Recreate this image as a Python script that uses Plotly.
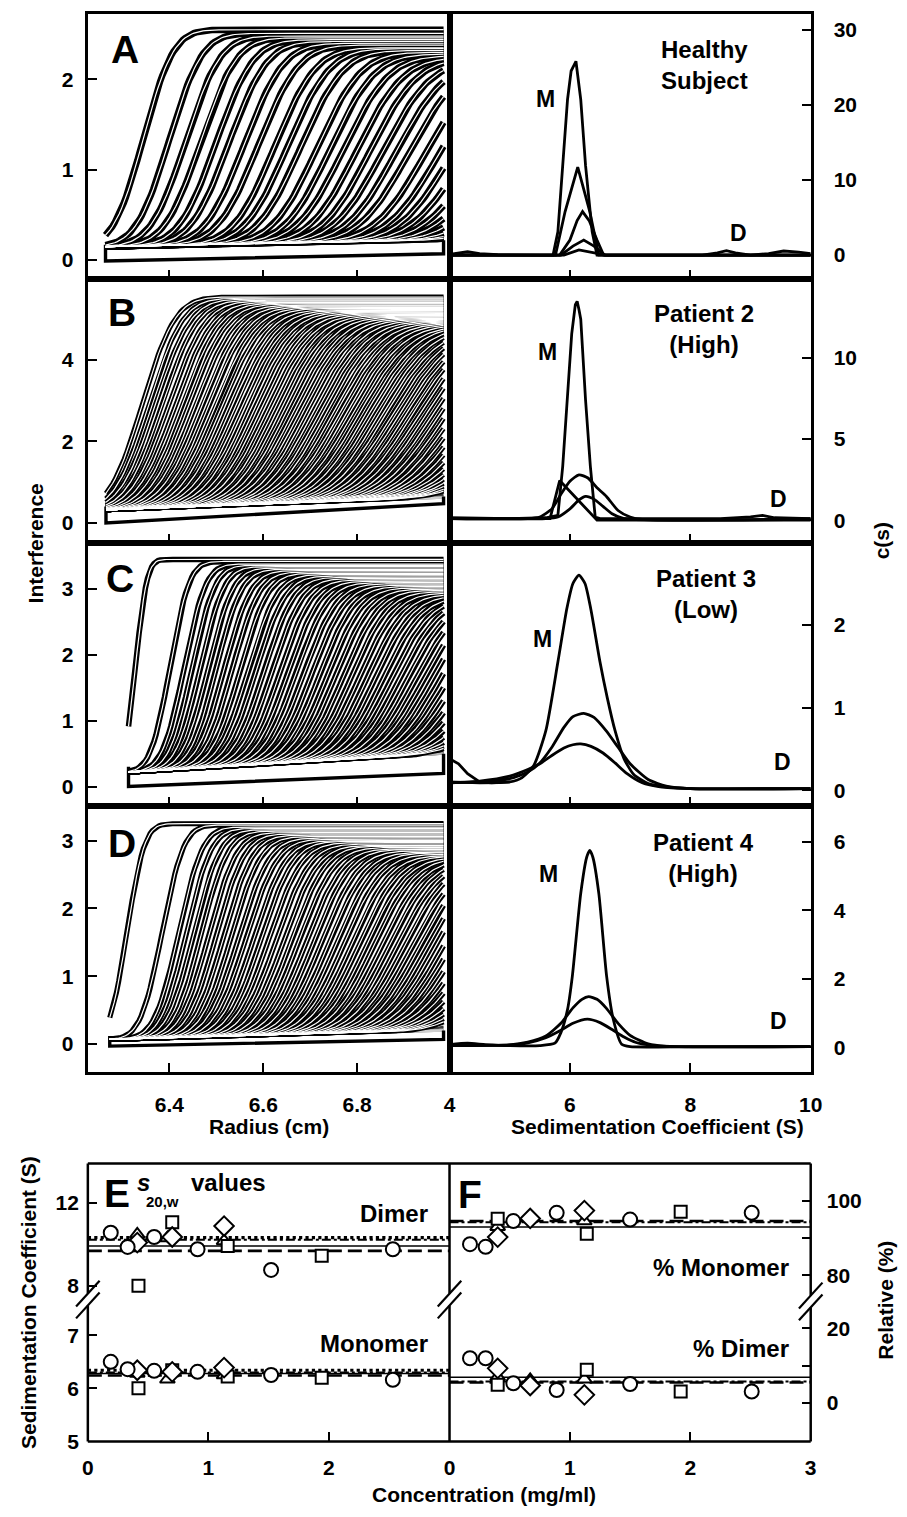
import math
import numpy as np
import plotly.graph_objects as go

W, H = 907, 1517
FONT = "Liberation Sans, Arial, Helvetica, sans-serif"

# ---------------------------------------------------------------------------
# Panels A-D (left): interference scans, radius (cm) vs fringes.
# Each scan: boundary midpoint (cm), boundary spread (cm), plateau level.
# ---------------------------------------------------------------------------
A_rmen, A_rend = 6.264, 6.984
A_base = [0.15, 0.22]
A_rb = [6.345, 6.400, 6.435, 6.467, 6.500, 6.527, 6.560, 6.590, 6.625, 6.652,
        6.680, 6.715, 6.743, 6.771, 6.800, 6.828, 6.855, 6.883, 6.911, 6.946,
        6.975, 7.002, 7.030, 7.058, 7.086, 7.114, 7.142, 7.170, 7.200]
A_sig = [0.050, 0.055, 0.058, 0.060, 0.062, 0.064, 0.066, 0.068, 0.069, 0.071,
         0.072, 0.074, 0.075, 0.077, 0.078, 0.079, 0.081, 0.082, 0.083, 0.085,
         0.086, 0.087, 0.088, 0.089, 0.090, 0.091, 0.092, 0.093, 0.094]
A_top = [2.55, 2.51, 2.48, 2.46, 2.44, 2.42, 2.40, 2.38, 2.35, 2.34,
         2.32, 2.30, 2.28, 2.26, 2.24, 2.23, 2.21, 2.19, 2.18, 2.16,
         2.14, 2.13, 2.11, 2.10, 2.08, 2.07, 2.05, 2.04, 2.02]
A_late_rb = [7.24, 7.29, 7.35, 7.42, 7.50, 7.60]
A_late_sig, A_late_top = 0.095, 2.0
A_floor_r = [6.264, 6.264, 6.984, 6.984]
A_floor_v = [0.17, -0.01, 0.07, 0.22]

B_rmen, B_rend = 6.265, 6.984
B_base = [0.32, 0.62]
B_rb = [6.343, 6.357, 6.371, 6.385, 6.399, 6.413, 6.427, 6.441, 6.455, 6.469,
        6.483, 6.497, 6.511, 6.525, 6.539, 6.553, 6.567, 6.581, 6.595, 6.609,
        6.623, 6.637, 6.651, 6.665, 6.679, 6.693, 6.707, 6.721, 6.735, 6.749,
        6.763, 6.777, 6.791, 6.805, 6.819, 6.833, 6.847, 6.861, 6.875, 6.889,
        6.903, 6.917, 6.931, 6.945, 6.959, 6.973, 6.987, 7.001, 7.015, 7.029,
        7.043, 7.057, 7.071, 7.085, 7.099, 7.113, 7.127, 7.141, 7.155]
B_sig = [0.055, 0.057, 0.059, 0.060, 0.062, 0.063, 0.064, 0.065, 0.066, 0.067,
         0.068, 0.069, 0.070, 0.071, 0.072, 0.073, 0.073, 0.074, 0.075, 0.076,
         0.077, 0.077, 0.078, 0.079, 0.080, 0.080, 0.081, 0.082, 0.082, 0.083,
         0.084, 0.084, 0.085, 0.086, 0.086, 0.087, 0.087, 0.088, 0.089, 0.089,
         0.090, 0.090, 0.091, 0.091, 0.092, 0.092, 0.093, 0.093, 0.094, 0.094,
         0.095, 0.095, 0.096, 0.096, 0.097, 0.097, 0.098, 0.098, 0.099]
B_top = [5.55, 5.52, 5.50, 5.47, 5.45, 5.42, 5.40, 5.38, 5.35, 5.33,
         5.31, 5.29, 5.27, 5.24, 5.22, 5.20, 5.18, 5.16, 5.14, 5.12,
         5.10, 5.08, 5.06, 5.04, 5.02, 5.00, 4.98, 4.96, 4.94, 4.92,
         4.90, 4.88, 4.86, 4.84, 4.83, 4.81, 4.79, 4.77, 4.75, 4.73,
         4.71, 4.70, 4.68, 4.66, 4.64, 4.62, 4.61, 4.59, 4.57, 4.55,
         4.54, 4.52, 4.50, 4.48, 4.47, 4.45, 4.43, 4.42, 4.40]
B_late_rb = [7.19, 7.23, 7.28, 7.34, 7.41, 7.50]
B_late_sig, B_late_top = 0.10, 4.4
B_floor_r = [6.265, 6.265, 6.984, 6.984]
B_floor_v = [0.40, 0.00, 0.47, 0.65]

C_rmen, C_rend = 6.313, 6.984
C_base = [0.22, 0.50]
C_rb = [6.328, 6.402, 6.432, 6.449, 6.466, 6.483, 6.500, 6.517, 6.534, 6.551,
        6.568, 6.585, 6.602, 6.619, 6.636, 6.653, 6.670, 6.687, 6.704, 6.721,
        6.738, 6.755, 6.772, 6.789, 6.806, 6.823, 6.840, 6.857, 6.874, 6.891,
        6.908, 6.925, 6.942, 6.959, 6.976, 6.993, 7.010, 7.027, 7.044, 7.061,
        7.078, 7.095, 7.112, 7.129]
C_sig = [0.019, 0.032, 0.036, 0.038, 0.040, 0.042, 0.043, 0.045, 0.046, 0.047,
         0.049, 0.050, 0.051, 0.052, 0.053, 0.054, 0.055, 0.056, 0.057, 0.058,
         0.059, 0.060, 0.061, 0.062, 0.063, 0.064, 0.065, 0.066, 0.067, 0.068,
         0.069, 0.070, 0.071, 0.072, 0.073, 0.074, 0.075, 0.076, 0.077, 0.078,
         0.079, 0.080, 0.081, 0.082]
C_top = [3.45, 3.42, 3.38, 3.36, 3.34, 3.32, 3.30, 3.28, 3.26, 3.24,
         3.22, 3.20, 3.18, 3.16, 3.14, 3.12, 3.10, 3.08, 3.06, 3.04,
         3.02, 3.00, 2.98, 2.96, 2.94, 2.92, 2.90, 2.88, 2.86, 2.84,
         2.82, 2.80, 2.78, 2.76, 2.74, 2.72, 2.70, 2.68, 2.66, 2.64,
         2.62, 2.60, 2.58, 2.56]
C_late_rb = [7.17, 7.22, 7.28, 7.35, 7.43]
C_late_sig, C_late_top = 0.085, 2.55
C_floor_r = [6.313, 6.313, 6.984, 6.984]
C_floor_v = [0.30, 0.00, 0.20, 0.50]

D_rmen, D_rend = 6.273, 6.984
D_base = [0.07, 0.20]
D_rb = [6.310, 6.385, 6.420, 6.436, 6.452, 6.468, 6.484, 6.500, 6.516, 6.532,
        6.548, 6.564, 6.580, 6.596, 6.612, 6.628, 6.644, 6.660, 6.676, 6.692,
        6.708, 6.724, 6.740, 6.756, 6.772, 6.788, 6.804, 6.820, 6.836, 6.852,
        6.868, 6.884, 6.900, 6.916, 6.932, 6.948, 6.964, 6.980, 6.996, 7.012,
        7.028, 7.044, 7.060, 7.076, 7.092, 7.108, 7.124]
D_sig = [0.029, 0.036, 0.040, 0.042, 0.044, 0.045, 0.047, 0.048, 0.049, 0.050,
         0.052, 0.053, 0.054, 0.055, 0.056, 0.057, 0.058, 0.059, 0.060, 0.061,
         0.062, 0.063, 0.064, 0.065, 0.066, 0.067, 0.068, 0.069, 0.070, 0.071,
         0.072, 0.073, 0.074, 0.075, 0.076, 0.077, 0.078, 0.079, 0.080, 0.081,
         0.082, 0.083, 0.084, 0.085, 0.086, 0.087, 0.088]
D_top = [3.25, 3.23, 3.20, 3.18, 3.16, 3.14, 3.12, 3.10, 3.08, 3.06,
         3.04, 3.02, 3.00, 2.99, 2.97, 2.95, 2.93, 2.92, 2.90, 2.88,
         2.87, 2.85, 2.83, 2.82, 2.80, 2.78, 2.77, 2.75, 2.74, 2.72,
         2.71, 2.69, 2.68, 2.66, 2.65, 2.63, 2.62, 2.60, 2.59, 2.58,
         2.56, 2.55, 2.54, 2.52, 2.51, 2.50, 2.49]
D_late_rb = [7.16, 7.20, 7.25, 7.31, 7.38, 7.46]
D_late_sig, D_late_top = 0.09, 2.5
D_floor_r = [6.273, 6.273, 6.984, 6.984]
D_floor_v = [0.12, -0.03, 0.07, 0.20]

LATE_GRAYS = ["#3c3c3c", "#5a5a5a", "#787878", "#969696", "#b4b4b4", "#d0d0d0"]

# ---------------------------------------------------------------------------
# Panels A-D (right): c(s) distributions, s (S) vs c(s)
# ---------------------------------------------------------------------------
A_s1 = [4.0, 4.15, 4.3, 4.5, 4.8, 5.5, 5.72, 5.80, 5.88, 5.96, 6.02, 6.10, 6.18,
        6.26, 6.37, 6.45, 7.0, 8.2, 8.45, 8.6, 8.75, 9.0, 9.3, 9.55, 9.8, 10.0]
A_c1 = [0.1, 0.3, 0.45, 0.2, 0.05, 0.0, 0.0, 3.1, 11.9, 20.7, 24.5, 25.8, 20.7,
        11.9, 3.1, 0.0, 0.0, 0.0, 0.3, 0.6, 0.3, 0.0, 0.2, 0.55, 0.4, 0.2]
A_s2 = [4.0, 5.5, 5.76, 5.92, 6.13, 6.33, 6.48, 7.0, 10.0]
A_c2 = [0.0, 0.0, 0.0, 5.8, 11.7, 5.8, 0.0, 0.0, 0.0]
A_s3 = [4.0, 5.6, 5.83, 6.0, 6.12, 6.21, 6.32, 6.45, 6.56, 7.0, 10.0]
A_c3 = [0.0, 0.0, 0.0, 2.0, 4.6, 5.8, 4.6, 2.0, 0.0, 0.0, 0.0]
A_s4 = [4.0, 5.6, 5.85, 6.05, 6.23, 6.4, 6.58, 7.0, 10.0]
A_c4 = [0.0, 0.0, 0.0, 1.2, 2.0, 1.2, 0.0, 0.0, 0.0]
A_s5 = [4.0, 5.7, 5.9, 6.15, 6.4, 6.6, 10.0]
A_c5 = [0.0, 0.0, 0.0, 0.7, 0.3, 0.0, 0.0]

B_s1 = [4.0, 5.0, 5.6, 5.80, 5.88, 5.96, 6.03, 6.09, 6.12, 6.15, 6.18, 6.26,
        6.34, 6.42, 6.5, 7.0, 8.5, 9.0, 9.2, 9.4, 10.0]
B_c1 = [0.15, 0.1, 0.15, 0.3, 3.3, 7.4, 11.5, 13.3, 13.5, 13.0, 12.4, 7.4,
        3.3, 0.2, 0.1, 0.1, 0.1, 0.2, 0.3, 0.15, 0.1]
B_s2 = [4.0, 5.5, 5.67, 5.83, 6.14, 6.45, 10.0]
B_c2 = [0.1, 0.1, 0.1, 2.45, 1.2, 0.0, 0.0]
B_s3 = [4.0, 5.3, 5.5, 5.7, 5.85, 6.0, 6.15, 6.3, 6.45, 6.61, 6.8, 7.0, 7.2, 10.0]
B_c3 = [0.1, 0.1, 0.2, 0.7, 1.6, 2.4, 2.8, 2.6, 2.0, 1.45, 0.6, 0.2, 0.05, 0.05]
B_s4 = [4.0, 5.6, 5.8, 6.0, 6.15, 6.26, 6.4, 6.55, 6.7, 6.9, 10.0]
B_c4 = [0.1, 0.1, 0.2, 0.7, 1.25, 1.47, 1.3, 0.85, 0.4, 0.1, 0.1]

C_s1 = [4.0, 4.5, 5.0, 5.2, 5.4, 5.6, 5.8, 5.95, 6.05, 6.15, 6.25, 6.35, 6.5,
        6.62, 6.75, 6.9, 7.06, 7.3, 7.6, 8.0, 10.0]
C_c1 = [0.10, 0.09, 0.10, 0.15, 0.30, 0.72, 1.55, 2.20, 2.50, 2.60, 2.50, 2.18,
        1.55, 1.12, 0.72, 0.38, 0.19, 0.08, 0.04, 0.02, 0.02]
C_s2 = [4.0, 4.5, 5.0, 5.3, 5.5, 5.7, 5.9, 6.05, 6.23, 6.4, 6.6, 6.8, 7.0, 7.3,
        7.6, 8.0, 10.0]
C_c2 = [0.09, 0.10, 0.14, 0.22, 0.33, 0.52, 0.76, 0.89, 0.93, 0.88, 0.72, 0.52,
        0.32, 0.13, 0.05, 0.02, 0.02]
C_s3 = [4.0, 4.5, 5.0, 5.3, 5.5, 5.7, 5.9, 6.05, 6.18, 6.35, 6.55, 6.75, 6.95,
        7.2, 7.5, 8.0, 10.0]
C_c3 = [0.09, 0.11, 0.17, 0.25, 0.32, 0.42, 0.51, 0.55, 0.56, 0.53, 0.45, 0.33,
        0.20, 0.09, 0.04, 0.02, 0.02]
C_s4 = [4.0, 4.15, 4.3, 4.5, 4.7, 5.0]
C_c4 = [0.38, 0.32, 0.20, 0.10, 0.09, 0.10]

D_s1 = [4.0, 4.3, 4.6, 5.0, 5.5, 5.75, 5.85, 5.96, 6.04, 6.18, 6.28, 6.33, 6.38,
        6.48, 6.61, 6.72, 6.86, 7.0, 8.0, 10.0]
D_c1 = [0.08, 0.12, 0.08, 0.05, 0.05, 0.12, 0.43, 1.10, 2.07, 4.49, 5.55, 5.74,
        5.55, 4.49, 2.07, 0.82, 0.09, 0.02, 0.02, 0.02]
D_s2 = [4.0, 5.0, 5.3, 5.6, 5.85, 6.05, 6.2, 6.31, 6.45, 6.6, 6.8, 7.0, 7.3, 7.6, 10.0]
D_c2 = [0.05, 0.07, 0.15, 0.33, 0.70, 1.15, 1.40, 1.48, 1.40, 1.15, 0.70, 0.35,
        0.10, 0.03, 0.02]
D_s3 = [4.0, 5.0, 5.3, 5.6, 5.85, 6.05, 6.29, 6.5, 6.7, 6.9, 7.1, 7.4, 7.8, 10.0]
D_c3 = [0.05, 0.07, 0.13, 0.28, 0.50, 0.70, 0.82, 0.72, 0.52, 0.30, 0.14, 0.05,
        0.02, 0.02]

# ---------------------------------------------------------------------------
# Panel E: s20,w values (S); panel F: relative amount (%) vs concentration
# ---------------------------------------------------------------------------
E_circ_c = [0.19, 0.33, 0.55, 0.91, 1.52, 2.53]
E_circ_dimer = [10.56, 9.87, 10.35, 9.76, 8.76, 9.76]
E_circ_mono = [6.50, 6.36, 6.33, 6.31, 6.25, 6.16]
E_sq_c = [0.42, 0.70, 1.16, 1.94]
E_sq_dimer = [8.0, 11.07, 9.92, 9.44]
E_sq_mono = [6.0, 6.34, 6.22, 6.20]
E_dia_c = [0.41, 0.70, 1.13]
E_dia_dimer = [10.08, 10.35, 10.88]
E_dia_mono = [6.34, 6.31, 6.39]
E_tri_c = [0.41, 0.66, 1.13]
E_tri_dimer = [10.48, 10.30, 10.16]
E_tri_mono = [6.28, 6.17, 6.25]

F_circ_c = [0.17, 0.30, 0.53, 0.89, 1.50, 2.51]
F_circ_mono = [88.3, 87.6, 94.5, 96.7, 94.9, 96.7]
F_circ_dimer = [12.0, 12.0, 5.3, 3.5, 5.1, 3.1]
F_sq_c = [0.40, 1.14, 1.92]
F_sq_mono = [95.1, 91.1, 97.0]
F_sq_dimer = [4.9, 8.9, 3.1]
F_dia_c = [0.40, 0.67, 1.12]
F_dia_mono = [90.2, 95.2, 97.3]
F_dia_dimer = [9.3, 4.7, 2.2]
F_tri_c = [0.40, 0.67, 1.12]
F_tri_mono = [93.0, 95.2, 94.5]
F_tri_dimer = [7.0, 6.2, 6.4]

# average levels drawn across each panel
E_dimer_levels = [10.32, 10.22, 9.92, 9.68]
E_mono_levels = [6.34, 6.30, 6.28, 6.24]
E_level_styles = ["dotted", "dashdot", "solid", "dashed"]
F_mono_levels = [94.5, 94.2, 92.9]
F_dimer_levels = [5.5, 5.8, 6.9]
F_level_styles = ["dashed", "dashdot", "solid"]
CONC_SPAN = [0, 3]

LEFT_YTICKS = [[0, 1, 2], [0, 2, 4], [0, 1, 2, 3], [0, 1, 2, 3]]
RIGHT_YTICKS = [[0, 10, 20, 30], [0, 5, 10], [0, 1, 2], [0, 2, 4, 6]]
RADIUS_TICKS = [6.4, 6.6, 6.8]
S_TICKS = [4, 6, 8, 10]


def px(x):
    return x / W


def py(y):
    return 1 - y / H


def axname(kind, k):
    return kind + "axis" + ("" if k == 1 else str(k))


def ref(kind, k):
    return kind + ("" if k == 1 else str(k))


def scan_lines(rmen, rend, base, rbs, sigs, tops, n=150):
    r = np.linspace(rmen, rend, n)
    b = base[0] + (base[1] - base[0]) * (r - rmen) / (rend - rmen)
    xs, ys = [], []
    for rb, s, t in zip(rbs, sigs, tops):
        f = np.array([0.5 * (1 + math.erf((ri - rb) / (s * math.sqrt(2)))) for ri in r])
        y = b + (t - b) * f
        xs += list(r) + [None]
        ys += list(y) + [None]
    return xs, ys


fig = go.Figure()

panels = [
    (A_rmen, A_rend, A_base, A_rb, A_sig, A_top, A_late_rb, A_late_sig, A_late_top, A_floor_r, A_floor_v, 6.5),
    (B_rmen, B_rend, B_base, B_rb, B_sig, B_top, B_late_rb, B_late_sig, B_late_top, B_floor_r, B_floor_v, 4.8),
    (C_rmen, C_rend, C_base, C_rb, C_sig, C_top, C_late_rb, C_late_sig, C_late_top, C_floor_r, C_floor_v, 5.6),
    (D_rmen, D_rend, D_base, D_rb, D_sig, D_top, D_late_rb, D_late_sig, D_late_top, D_floor_r, D_floor_v, 5.2),
]

for i, (rmen, rend, base, rbs, sigs, tops, late_rb, late_sig, late_top, fr, fv, lw) in enumerate(panels):
    k = 2 * i + 1
    xa, ya = ref("x", k), ref("y", k)
    # late, nearly depleted scans in fading grays
    for j, rb in enumerate(late_rb):
        gx, gy = scan_lines(rmen, rend, base, [rb], [late_sig], [late_top])
        fig.add_trace(go.Scatter(x=gx, y=gy, mode="lines",
                                 line=dict(color=LATE_GRAYS[j % len(LATE_GRAYS)], width=2.4),
                                 xaxis=xa, yaxis=ya, hoverinfo="skip"))
    fig.add_trace(go.Scatter(x=fr, y=fv, mode="lines", line=dict(color="black", width=3.4),
                             xaxis=xa, yaxis=ya, hoverinfo="skip"))
    sx, sy = scan_lines(rmen, rend, base, rbs, sigs, tops)
    fig.add_trace(go.Scatter(x=sx, y=sy, mode="lines", line=dict(color="black", width=lw),
                             xaxis=xa, yaxis=ya, hoverinfo="skip"))
    fig.add_trace(go.Scatter(x=sx, y=sy, mode="lines", line=dict(color="white", width=1.2),
                             xaxis=xa, yaxis=ya, hoverinfo="skip"))

cs_sets = [
    [(A_s1, A_c1, "linear"), (A_s2, A_c2, "linear"), (A_s3, A_c3, "linear"),
     (A_s4, A_c4, "linear"), (A_s5, A_c5, "linear")],
    [(B_s1, B_c1, "linear"), (B_s2, B_c2, "linear"), (B_s3, B_c3, "spline"),
     (B_s4, B_c4, "spline")],
    [(C_s1, C_c1, "spline"), (C_s2, C_c2, "spline"), (C_s3, C_c3, "spline"),
     (C_s4, C_c4, "linear")],
    [(D_s1, D_c1, "spline"), (D_s2, D_c2, "spline"), (D_s3, D_c3, "spline")],
]
for i, curves in enumerate(cs_sets):
    k = 2 * i + 2
    for s, c, shape in curves:
        fig.add_trace(go.Scatter(x=s, y=c, mode="lines",
                                 line=dict(color="black", width=2.8, shape=shape, smoothing=0.6),
                                 xaxis=ref("x", k), yaxis=ref("y", k), hoverinfo="skip"))

LEVEL_STYLE = {
    "dotted": dict(dash="dot", width=3.2),
    "dashdot": dict(dash="dashdot", width=2.0),
    "solid": dict(dash="solid", width=1.6),
    "dashed": dict(dash="14px,6px", width=2.6),
}


def add_levels(levels, styles, xa, ya):
    for v, st in zip(levels, styles):
        fig.add_trace(go.Scatter(x=CONC_SPAN, y=[v, v], mode="lines",
                                 line=dict(color="black", **LEVEL_STYLE[st]),
                                 xaxis=xa, yaxis=ya, hoverinfo="skip"))


add_levels(E_dimer_levels, E_level_styles, "x9", "y10")
add_levels(E_mono_levels, E_level_styles, "x9", "y9")
add_levels(F_mono_levels, F_level_styles, "x11", "y12")
add_levels(F_dimer_levels, F_level_styles, "x11", "y11")

MARK = {
    "tri": dict(symbol="triangle-up", size=13),
    "sq": dict(symbol="square", size=12),
    "dia": dict(symbol="diamond", size=15),
    "circ": dict(symbol="circle", size=14),
}


def add_points(x, y, kind, xa, ya):
    m = MARK[kind]
    fig.add_trace(go.Scatter(x=x, y=y, mode="markers",
                             marker=dict(symbol=m["symbol"], size=m["size"], color="white",
                                         line=dict(color="black", width=2)),
                             xaxis=xa, yaxis=ya, hoverinfo="skip"))


for kind, c, dim, mono in [("tri", E_tri_c, E_tri_dimer, E_tri_mono),
                           ("sq", E_sq_c, E_sq_dimer, E_sq_mono),
                           ("dia", E_dia_c, E_dia_dimer, E_dia_mono),
                           ("circ", E_circ_c, E_circ_dimer, E_circ_mono)]:
    add_points(c, dim, kind, "x9", "y10")
    add_points(c, mono, kind, "x9", "y9")

for kind, c, mono, dim in [("tri", F_tri_c, F_tri_mono, F_tri_dimer),
                           ("sq", F_sq_c, F_sq_mono, F_sq_dimer),
                           ("dia", F_dia_c, F_dia_mono, F_dia_dimer),
                           ("circ", F_circ_c, F_circ_mono, F_circ_dimer)]:
    add_points(c, mono, kind, "x11", "y12")
    add_points(c, dim, kind, "x11", "y11")

# ---------------------------------------------------------------------------
# Axes
# ---------------------------------------------------------------------------
TICKFONT = dict(family=FONT, size=21, color="black", weight="bold")


def axis(**kw):
    d = dict(showgrid=False, zeroline=False, ticks="inside", ticklen=9, tickwidth=2,
             tickcolor="black", showline=True, linecolor="black", linewidth=2.5,
             mirror=True, tickfont=TICKFONT, fixedrange=True)
    d.update(kw)
    return d


layout = {}
rows = [(14, 281), (281, 546.5), (546.5, 812), (812, 1080)]
left_ranges = [[-0.209, 2.725], [-0.483, 5.993], [-0.297, 3.707], [-0.414, 3.509]]
right_ranges = [[-3.17, 32.1], [-1.378, 14.88], [-0.192, 2.995], [-0.724, 7.033]]
for i, (top, bot) in enumerate(rows):
    lk, rk = 2 * i + 1, 2 * i + 2
    last = i == 3
    layout[axname("x", lk)] = axis(domain=[px(84), px(452.5)], range=[6.2274, 6.9967],
                                   tickvals=RADIUS_TICKS, showticklabels=last,
                                   ticklabelstandoff=12, anchor=ref("y", lk))
    layout[axname("y", lk)] = axis(domain=[py(bot), py(top)], range=left_ranges[i],
                                   tickvals=LEFT_YTICKS[i], ticklabelstandoff=8,
                                   anchor=ref("x", lk))
    layout[axname("x", rk)] = axis(domain=[px(452.5), px(821)], range=[4, 10],
                                   tickvals=S_TICKS, showticklabels=last,
                                   ticklabelstandoff=12, anchor=ref("y", rk))
    layout[axname("y", rk)] = axis(domain=[py(bot), py(top)], range=right_ranges[i],
                                   tickvals=RIGHT_YTICKS[i], side="right",
                                   ticklabelstandoff=16, anchor=ref("x", rk))

layout["xaxis9"] = axis(domain=[px(83.5), px(452.5)], range=[0, 3], tickvals=[0, 1, 2],
                        showline=False, mirror=False, ticklabelstandoff=12, anchor="y9")
layout["yaxis9"] = axis(domain=[py(1452), py(1315)], range=[4.994, 7.565], tickvals=[5, 6, 7],
                        showline=False, mirror=False, ticklabelstandoff=8, anchor="x9")
layout["yaxis10"] = axis(domain=[py(1303), py(1172)], range=[7.617, 13.906], tickvals=[8, 12],
                         showline=False, mirror=False, ticklabelstandoff=8, anchor="x9")
layout["xaxis11"] = axis(domain=[px(452.5), px(821)], range=[0, 3], tickvals=[0, 1, 2, 3],
                         showline=False, mirror=False, ticklabelstandoff=12, anchor="y11")
layout["yaxis11"] = axis(domain=[py(1452), py(1317)], range=[-10.29, 25.61],
                         tickvals=[0, 10, 20], ticktext=["0", "", "20"], side="right",
                         showline=False, mirror=False, ticklabelstandoff=15, anchor="x11")
layout["yaxis12"] = axis(domain=[py(1305), py(1172)], range=[74.55, 109.92],
                         tickvals=[80, 90, 100], ticktext=["80", "", "100"], side="right",
                         showline=False, mirror=False, ticklabelstandoff=15, anchor="x11")

# frame and axis breaks of panels E and F
shapes = []


def seg(x0, y0, x1, y1, w=2.5):
    shapes.append(dict(type="line", xref="paper", yref="paper", x0=px(x0), y0=py(y0),
                       x1=px(x1), y1=py(y1), line=dict(color="black", width=w), layer="above"))


seg(83.5, 1172, 821, 1172)
seg(83.5, 1452, 821, 1452)
for xb, g0, g1 in [(83.5, 1303, 1315), (452.5, 1303, 1315), (821, 1305, 1317)]:
    seg(xb, 1172, xb, g0)
    seg(xb, g1, xb, 1452)
    seg(xb - 12, g0 + 13, xb + 12, g0 - 13, 2.2)
    seg(xb - 12, g1 + 13, xb + 12, g1 - 13, 2.2)

# ---------------------------------------------------------------------------
# Text
# ---------------------------------------------------------------------------
ann = []


def text(t, x, y, size, angle=0, xanchor="center", weight="bold"):
    ann.append(dict(text=t, x=px(x), y=py(y), xref="paper", yref="paper", showarrow=False,
                    xanchor=xanchor, yanchor="middle", textangle=angle,
                    font=dict(family=FONT, size=size, color="black", weight=weight)))


for t, x, y in [("A", 121, 50), ("B", 118, 315), ("C", 116, 583), ("D", 118, 850),
                ("E", 113, 1202), ("F", 473, 1203)]:
    text(t, x, y, 39)
for t, x, y in [("Healthy<br>Subject", 713, 65), ("Patient 2<br>(High)", 712, 331),
                ("Patient 3<br>(Low)", 714, 598), ("Patient 4<br>(High)", 712, 864)]:
    text(t, x, y, 24)
for t, x, y in [("M", 550, 100), ("D", 747, 235), ("M", 552, 355), ("D", 788, 503),
                ("M", 547, 644), ("D", 792, 768), ("M", 553, 880), ("D", 788, 1028)]:
    text(t, x, y, 23)

text("<i>s</i>", 140, 1191, 24)
text("20,w", 160, 1210, 15)
text("values", 227, 1191, 24)
text("Dimer", 433, 1222, 24, xanchor="right")
text("Monomer", 433, 1353, 24, xanchor="right")
text("% Monomer", 801, 1277, 24, xanchor="right")
text("% Dimer", 801, 1358, 24, xanchor="right")

text("Interference", 30, 547, 21, angle=-90)
text("c(s)", 893, 545, 21, angle=-90)
text("Radius (cm)", 268, 1135, 21)
text("Sedimentation Coefficient (S)", 665, 1135, 21)
text("Sedimentation Coefficient (S)", 23, 1312, 21, angle=-90)
text("Relative (%)", 897, 1310, 21, angle=-90)
text("Concentration (mg/ml)", 488, 1505, 21)

fig.update_layout(
    width=W, height=H, margin=dict(l=0, r=0, t=0, b=0),
    paper_bgcolor="white", plot_bgcolor="white", showlegend=False,
    font=dict(family=FONT, color="black"),
    shapes=shapes, annotations=ann, **layout,
)

fig.write_html("out.html")
